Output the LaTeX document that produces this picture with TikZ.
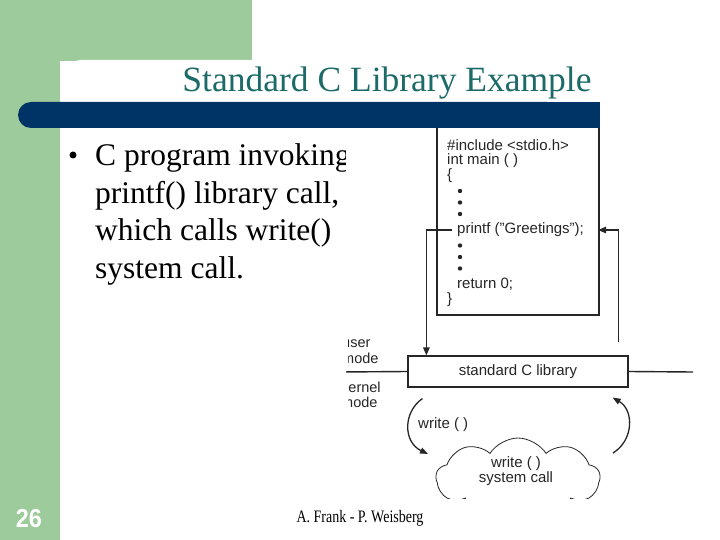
\documentclass[tikz,border=0pt]{standalone}
\usepackage{fontspec}
\setmainfont{Liberation Serif}
\setsansfont{Liberation Sans}
\usetikzlibrary{shapes.symbols,arrows.meta}
\definecolor{slidegreen}{HTML}{9DCB9B}
\definecolor{slidenavy}{HTML}{003366}
\definecolor{titleteal}{HTML}{1C6B68}
\definecolor{figink}{HTML}{262626}

\begin{document}
\begin{tikzpicture}[x=1pt, y=-1pt,
    code/.style={anchor=west, inner sep=0pt, text=figink, font=\sffamily\fontsize{15}{15}\selectfont},
    codedot/.style={circle, fill=figink, inner sep=0pt, minimum size=4.4pt},
    arr/.style={-{Triangle[length=8pt,width=6.5pt]}, line width=1.4pt, draw=figink},
    bendarr/.style={-{Triangle[length=8pt,width=6pt]}, line width=1.3pt, draw=figink}]
    \useasboundingbox (0,0) rectangle (720,540);

    % slide background
    \fill[slidegreen] (0,0) rectangle (252,61);
    \fill[slidegreen] (0,0) rectangle (60,540);
    \fill[white, rounded corners=22pt] (60,60) rectangle (760,600);

    % bullet text (base = last line)
    \node[circle, fill=black, inner sep=0pt, minimum size=7pt] (bul) at (73,155) {};
    \node[anchor=base west, inner sep=0pt, align=left, font=\fontsize{31.5}{37.7}\selectfont] (txt) at (95,278.5)
        {C program invoking\\ printf() library call,\\ which calls write()\\ system call.};

    % the figure
    \fill[white] (346,120) rectangle (700,498);
    \begin{scope}
    \clip (346,120) rectangle (700,498);
    \node[draw=figink, line width=1.1pt, minimum width=162pt, minimum height=195pt, inner sep=0pt] (prog) at (518,217.5) {};
    \node[code] (inc) at (447,145) {\#include <stdio.h>};
    \node[code] (main) at (447,160.5) {int main ( )};
    \node[code] (open) at (447,176) {\{};
    \foreach \y in {191,202.5,214,245.5,257,268.5}
        \node[codedot] at (460,\y) {};
    \node[code] (printf) at (457,230) {printf ("Greetings");};
    \node[code] (ret) at (457,284) {return 0;};
    \node[code] (close) at (447,300) {\}};

    \node[draw=figink, line width=1.2pt, minimum width=220pt, minimum height=31pt, inner sep=0pt,
        text=figink, font=\sffamily\fontsize{15}{15}\selectfont] (stdlib) at (518,371.5) {standard C library};
    \coordinate (modeleft) at (340,372);
    \coordinate (moderight) at (693,372);
    \draw[figink, line width=1.4pt] (modeleft) -- (stdlib.west);
    \draw[figink, line width=1.4pt] (stdlib.east) -- (moderight);
    \end{scope}

    \begin{scope}
    \clip (348,330) rectangle (700,420);
    \node[anchor=base west, inner sep=0pt, align=left, text=figink,
        font=\sffamily\fontsize{14.5}{15.5}\selectfont] (user) at (342,363) {user\\mode};
    \node[anchor=base west, inner sep=0pt, align=left, text=figink,
        font=\sffamily\fontsize{14.5}{15.5}\selectfont] (kernel) at (341,407.5) {kernel\\mode};
    \end{scope}

    \begin{scope}
    \clip (346,120) rectangle (700,498);
    \draw[arr] ([xshift=-5pt]printf.west) -| ([xshift=19pt]stdlib.north west);
    \draw[arr] ([xshift=-10pt,yshift=13pt]stdlib.north east) |- ([xshift=14pt]printf.east);

    \node[cloud, draw=figink, line width=0.8pt, cloud puffs=9, cloud puff arc=115, aspect=2.2,
        minimum width=164pt, minimum height=80pt, inner sep=0pt] (syscall) at (518,478) {};
    \node[align=center, inner sep=0pt, text=figink, font=\sffamily\fontsize{15}{14.5}\selectfont] (calltext) at (516,471)
        {write ( )\\ system call};
    \node[anchor=west, inner sep=0pt, text=figink, font=\sffamily\fontsize{15}{15}\selectfont] (wlabel) at (418,425) {write ( )};

    \draw[bendarr] ([shift={(15,11)}]stdlib.south west) .. controls (403,412) and (403,442) .. ([shift={(-90,-24)}]syscall.center);
    \draw[bendarr] ([shift={(95,-25)}]syscall.center) .. controls (634,440) and (634,410) .. ([shift={(-16,10)}]stdlib.south east);
    \end{scope}

    % title bar
    \fill[slidenavy, rounded corners=13pt] (18,102) rectangle (560,128);
    \fill[slidenavy] (40,102) rectangle (600,128);
    \node[anchor=base, inner sep=0pt, text=titleteal, font=\fontsize{35.5}{40}\selectfont] (title) at (387,92) {Standard C Library Example};

    % footer
    \node[anchor=base, inner sep=0pt, font=\fontsize{17.5}{20}\selectfont] (foot) at (360,522) {\scalebox{0.8}[1]{A. Frank - P. Weisberg}};
    \node[anchor=base, inner sep=0pt, text=white, font=\sffamily\bfseries\fontsize{26}{28}\selectfont] (num) at (29,527) {\scalebox{0.9}[1]{26}};
\end{tikzpicture}
\end{document}
